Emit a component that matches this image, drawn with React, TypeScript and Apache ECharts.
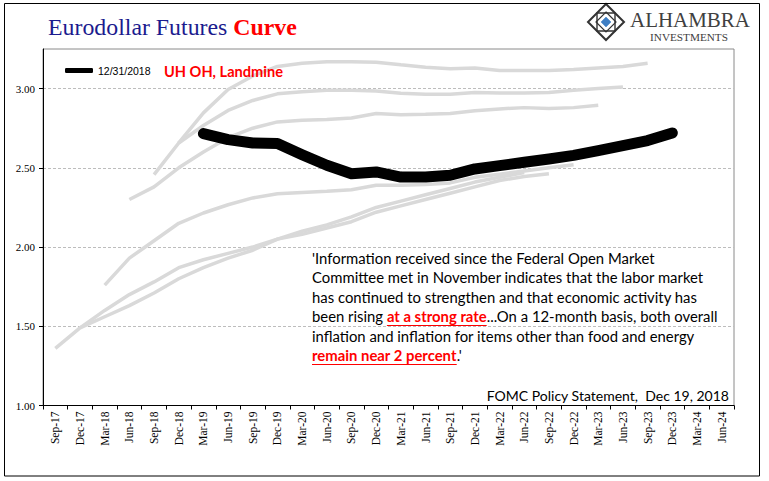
import React, { useEffect, useRef } from 'react';
import * as echarts from 'echarts';

// ---------- data ----------
const categories = [
  'Sep-17', 'Dec-17', 'Mar-18', 'Jun-18', 'Sep-18', 'Dec-18', 'Mar-19', 'Jun-19', 'Sep-19', 'Dec-19',
  'Mar-20', 'Jun-20', 'Sep-20', 'Dec-20', 'Mar-21', 'Jun-21', 'Sep-21', 'Dec-21', 'Mar-22', 'Jun-22',
  'Sep-22', 'Dec-22', 'Mar-23', 'Jun-23', 'Sep-23', 'Dec-23', 'Mar-24', 'Jun-24',
];

// earlier futures curves (grey), each listed from its first contract
const curveSep17 = [1.36, 1.49, 1.56, 1.63, 1.71, 1.80, 1.87, 1.93, 1.98, 2.05, 2.10, 2.14, 2.19, 2.25, 2.29, 2.33, 2.37, 2.41, 2.44, 2.47];
const curveDec17 = [1.49, 1.60, 1.70, 1.78, 1.87, 1.92, 1.96, 2.00, 2.05, 2.08, 2.12, 2.16, 2.22, 2.26, 2.30, 2.34, 2.38, 2.42, 2.445, 2.463];
const curveMar18 = [1.76, 1.93, 2.04, 2.15, 2.215, 2.267, 2.31, 2.337, 2.345, 2.352, 2.362, 2.39, 2.39, 2.395, 2.405, 2.44, 2.46, 2.48, 2.50, 2.52];
const curveJun18 = [2.30, 2.38, 2.50, 2.60, 2.69, 2.75, 2.79, 2.80, 2.805, 2.815, 2.843, 2.835, 2.838, 2.843, 2.86, 2.872, 2.88, 2.875, 2.88, 2.895];
const curveSep18 = [2.457, 2.657, 2.767, 2.862, 2.925, 2.967, 2.98, 2.99, 2.99, 2.985, 2.97, 2.965, 2.965, 2.975, 2.973, 2.973, 2.975, 2.99, 3.0, 3.01];
const curveDec18 = [2.657, 2.847, 2.994, 3.08, 3.14, 3.16, 3.17, 3.17, 3.167, 3.15, 3.135, 3.125, 3.13, 3.115, 3.115, 3.115, 3.12, 3.13, 3.14, 3.16];
const greyStarts = ['Sep-17', 'Dec-17', 'Mar-18', 'Jun-18', 'Sep-18', 'Dec-18'];
const greyValues = [curveSep17, curveDec17, curveMar18, curveJun18, curveSep18, curveDec18];

// 12/31/2018 curve (black), starting at Mar-19
const mainName = '12/31/2018';
const mainStart = 'Mar-19';
const curve20181231 = [2.716, 2.678, 2.657, 2.653, 2.583, 2.516, 2.463, 2.474, 2.442, 2.442, 2.453, 2.493, 2.514, 2.535, 2.556, 2.579, 2.609, 2.640, 2.672, 2.72];

// ---------- texts ----------
const titleMain = 'Eurodollar Futures ';
const titleRed = 'Curve';
const callout = 'UH OH, Landmine';
const quoteLines: (string | [string, string, string])[] = [
  "'Information received since the Federal Open Market",
  'Committee met in November indicates that the labor market',
  'has continued to strengthen and that economic activity has',
  ['been rising ', 'at a strong rate', '...On a 12-month basis, both overall'],
  'inflation and inflation for items other than food and energy',
  ['', 'remain near 2 percent', ".'"],
];
const sourceNote = 'FOMC Policy Statement,  Dec 19, 2018';
const logoName = 'ALHAMBRA';
const logoSub = 'INVESTMENTS';

const SERIF = 'Liberation Serif';
const SANS = 'Lato';
const ARIAL = 'Liberation Sans';

function pad(start: string, values: number[]) {
  const i = categories.indexOf(start);
  return categories.map((_, k) => (k >= i && k < i + values.length ? values[k - i] : null));
}

export default function App() {
  const ref = useRef<HTMLDivElement>(null);
  useEffect(() => {
    if (!ref.current) return;
    const chart = echarts.init(ref.current, undefined, { renderer: 'svg' });
    const ctx = document.createElement('canvas').getContext('2d') as CanvasRenderingContext2D;
    const measure = (t: string, weight: string, size: number, family: string) => {
      ctx.font = `${weight} ${size}px "${family}"`;
      return ctx.measureText(t).width;
    };
    const fit = (t: string, weight: string, family: string, target: number) =>
      (20 * target) / measure(t, weight, 20, family);

    // sizes fitted to the reference widths
    const titleSize = (20 * 249) / (measure(titleMain, 'normal', 20, SERIF) + measure(titleRed, 'bold', 20, SERIF));
    const calloutSize = fit(callout, 'bold', SANS, 119);
    const qSize = fit(quoteLines[0] as string, 'normal', SANS, 343);
    const srcSize = fit(sourceNote, 'normal', SANS, 243);
    const logoSize = 21;
    const logoScale = 120 / measure(logoName, 'normal', logoSize, SERIF);
    const subSize = 9.5;
    const subScale = 78 / measure(logoSub, 'normal', subSize, SERIF);

    const qLeft = 312;
    const qLH = 19.5;
    const qTop = 263.3 - 0.387 * qSize - qLH / 2;
    const baseline = (k: number) => qTop + qLH * (k + 0.5) + 0.387 * qSize;

    const richText = quoteLines
      .map((l) =>
        typeof l === 'string' ? `{n|${l}}` : `${l[0] ? `{n|${l[0]}}` : ''}{r|${l[1]}}{n|${l[2]}}`
      )
      .join('\n');

    const underlines: any[] = [];
    quoteLines.forEach((l, k) => {
      if (typeof l === 'string') return;
      const x0 = qLeft + (l[0] ? measure(l[0], 'normal', qSize, SANS) : 0);
      const w = measure(l[1], 'bold', qSize, SANS);
      const y = Math.round(baseline(k) + 3) + 0.5;
      underlines.push({
        type: 'line',
        z: 20,
        shape: { x1: x0, y1: y, x2: x0 + w, y2: y },
        style: { stroke: '#FF0000', lineWidth: 1.2 },
      });
    });

    const series: any[] = greyValues.map((vals, i) => ({
      type: 'line',
      name: `curve ${greyStarts[i]}`,
      data: pad(greyStarts[i], vals),
      symbol: 'none',
      showSymbol: false,
      silent: true,
      color: '#D9D9D9',
      lineStyle: { color: '#D9D9D9', width: 3.5 },
      z: 2,
    }));
    series.push({
      type: 'line',
      name: mainName,
      data: pad(mainStart, curve20181231),
      symbol: 'none',
      showSymbol: false,
      color: '#000000',
      lineStyle: { color: '#000000', width: 11, cap: 'round', join: 'round' },
      z: 3,
    });

    const option: any = {
      animation: false,
      backgroundColor: '#ffffff',
      title: {
        text: `{a|${titleMain}}{b|${titleRed}}`,
        left: 48,
        top: 13,
        padding: 0,
        textStyle: {
          fontWeight: 'normal',
          fontFamily: SERIF,
          fontSize: titleSize,
          rich: {
            a: { fontFamily: SERIF, fontSize: titleSize, fontWeight: 'normal', color: '#1B1B8E', lineHeight: 28 },
            b: { fontFamily: SERIF, fontSize: titleSize, fontWeight: 'bold', color: '#FF0000', lineHeight: 28 },
          },
        },
      },
      legend: {
        data: [mainName],
        left: 65,
        top: 65,
        padding: 0,
        itemWidth: 28,
        itemHeight: 5,
        icon: 'roundRect',
        selectedMode: false,
        textStyle: { fontFamily: ARIAL, fontSize: 10.5, color: '#000' },
      },
      grid: {
        left: 43,
        top: 49,
        right: 35,
        bottom: 75.5,
        show: true,
        borderColor: '#8A8A8A',
        borderWidth: 1,
        containLabel: false,
        outerBoundsMode: 'none',
      },
      xAxis: {
        type: 'category',
        data: categories,
        boundaryGap: true,
        axisLine: { show: true, lineStyle: { color: '#000', width: 1 } },
        axisTick: { show: true, length: 4, inside: false, alignWithLabel: false, lineStyle: { color: '#000' } },
        axisLabel: { rotate: 90, interval: 0, margin: 6, fontFamily: SERIF, fontSize: 11.5, color: '#000' },
        splitLine: { show: false },
      },
      yAxis: {
        type: 'value',
        min: 1,
        max: 3.25,
        interval: 0.5,
        axisLine: { show: true, lineStyle: { color: '#000', width: 1 } },
        axisTick: { show: true, length: 4, lineStyle: { color: '#000' } },
        axisLabel: {
          formatter: (v: number) => v.toFixed(2),
          fontFamily: SERIF,
          fontSize: 11,
          color: '#000',
          margin: 8,
          showMaxLabel: false,
        },
        splitLine: { show: true, showMaxLine: false, lineStyle: { color: '#BDBDBD', width: 1, type: [3, 2] } },
      },
      series,
      graphic: [
        {
          type: 'rect',
          z: 30,
          shape: { x: 4.5, y: 3.5, width: 755, height: 472.5 },
          style: { fill: 'none', stroke: '#000', lineWidth: 1 },
          silent: true,
        },
        {
          type: 'text',
          z: 20,
          x: 164,
          y: 76.7 - 0.387 * calloutSize,
          style: {
            text: callout,
            fontFamily: SANS,
            fontWeight: 'bold',
            fontSize: calloutSize,
            fill: '#FF0000',
            align: 'left',
            verticalAlign: 'middle',
          },
        },
        {
          type: 'text',
          z: 20,
          x: qLeft,
          y: qTop,
          style: {
            text: richText,
            fontFamily: SANS,
            fontSize: qSize,
            align: 'left',
            verticalAlign: 'top',
            rich: {
              n: { fontFamily: SANS, fontSize: qSize, fill: '#000', lineHeight: qLH },
              r: { fontFamily: SANS, fontSize: qSize, fontWeight: 'bold', fill: '#FF0000', lineHeight: qLH },
            },
          },
        },
        ...underlines,
        {
          type: 'text',
          z: 20,
          x: 729,
          y: 401 - 0.387 * srcSize,
          style: {
            text: sourceNote,
            fontFamily: SANS,
            fontSize: srcSize,
            fill: '#000',
            align: 'right',
            verticalAlign: 'middle',
          },
        },
        // logo
        {
          type: 'polygon',
          z: 20,
          shape: { points: [[606, 4], [624, 22], [606, 40], [588, 22]] },
          style: { fill: 'none', stroke: '#333333', lineWidth: 2 },
        },
        {
          type: 'polygon',
          z: 20,
          shape: { points: [[597, 13], [615, 13], [615, 31], [597, 31]] },
          style: { fill: 'none', stroke: '#333333', lineWidth: 1.4 },
        },
        {
          type: 'polygon',
          z: 20,
          shape: { points: [[606, 12], [616, 22], [606, 32], [596, 22]] },
          style: { fill: 'none', stroke: '#333333', lineWidth: 1.2 },
        },
        {
          type: 'polygon',
          z: 21,
          shape: { points: [[606, 17], [611, 22], [606, 27], [601, 22]] },
          style: { fill: '#3F7FC4', stroke: '#3F7FC4', lineWidth: 0.5 },
        },
        {
          type: 'text',
          z: 20,
          x: 630,
          y: 29,
          scaleX: logoScale,
          style: {
            text: logoName,
            fontFamily: SERIF,
            fontSize: logoSize,
            fill: '#404040',
            align: 'left',
            verticalAlign: 'bottom',
            lineHeight: 19,
          },
        },
        {
          type: 'text',
          z: 20,
          x: 689,
          y: 42.5,
          scaleX: subScale,
          style: {
            text: logoSub,
            fontFamily: SERIF,
            fontSize: subSize,
            fill: '#404040',
            align: 'center',
            verticalAlign: 'bottom',
            lineHeight: 9,
          },
        },
      ],
    };
    chart.setOption(option);
    return () => chart.dispose();
  }, []);
  return (
    <div
      ref={ref}
      style={{ position: 'absolute', left: 0, top: 0, width: 769, height: 481, background: '#fff' }}
    />
  );
}
